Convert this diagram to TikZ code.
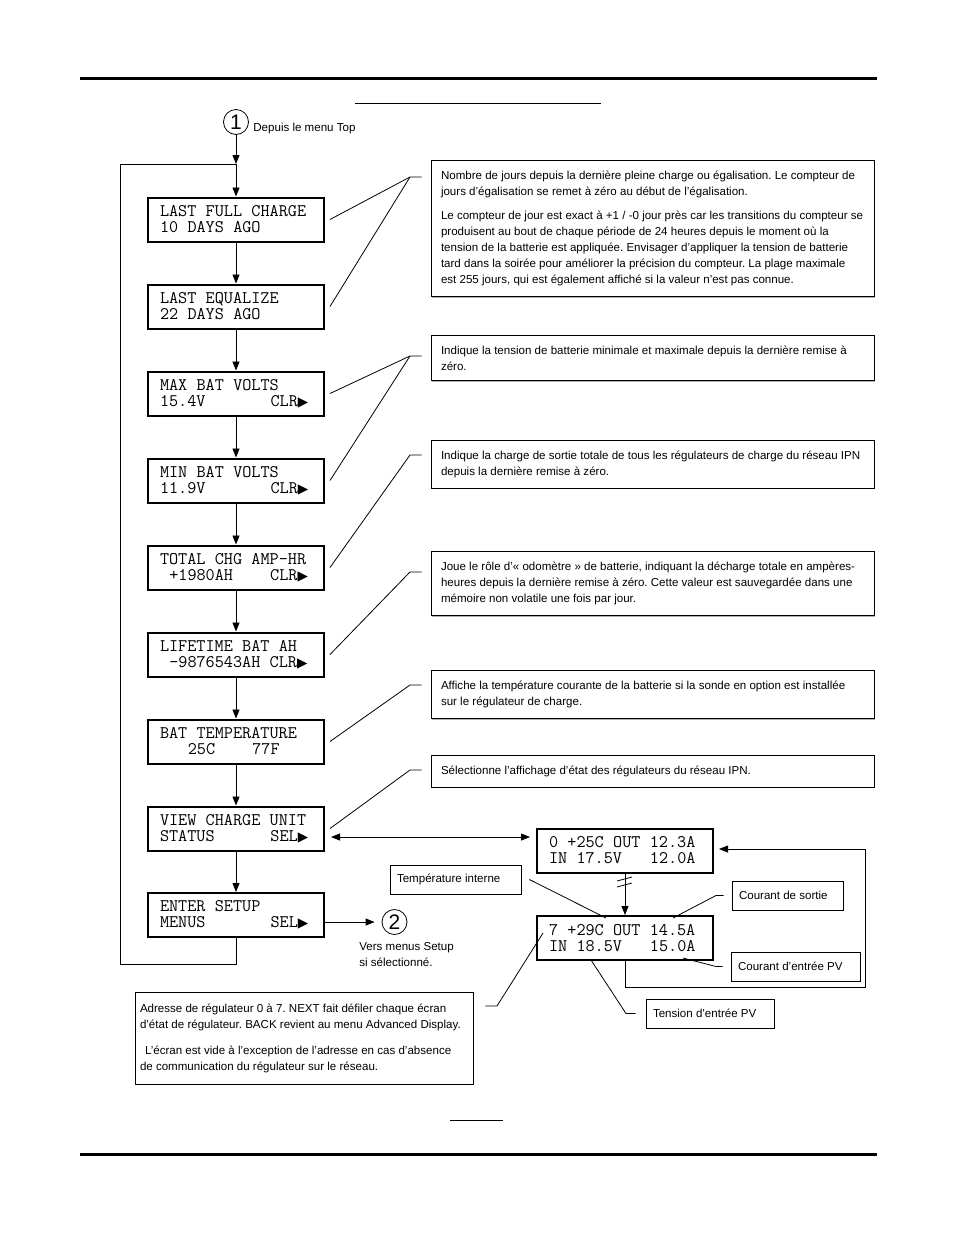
\documentclass[tikz,border=0pt]{standalone}
\usepackage{fontspec}
\setmainfont{Liberation Sans}
\newfontfamily\symbfont{DejaVu Sans}
\DeclareRobustCommand\lcdtype{\ttfamily\fontsize{17.7}{16}\selectfont}
\newcommand\tri{\makebox[0.525em][l]{\symbfont\fontsize{13.5}{13.5}\selectfont\raisebox{0.3pt}{▶}}}
\usetikzlibrary{arrows.meta,shadows}

\begin{document}
\begin{tikzpicture}[x=1pt, y=-1pt, line width=0.8pt,
        >={Triangle[length=9pt,width=7pt]},
        lcd/.style={draw, line width=2pt, font=\lcdtype, text width=152pt, align=left, inner xsep=12pt, inner ysep=0pt, minimum height=44pt, execute at begin node={\spaceskip=0.525em\relax}},
        note/.style={draw, fill=white, line width=0.8pt, general shadow={fill=gray!60, shadow xshift=1.2pt, shadow yshift=-1.2pt}, font=\fontsize{11.55}{16}\selectfont\frenchspacing, text width=423pt, align=left, inner xsep=10pt, inner ysep=10.5pt, execute at begin node={\spaceskip=0pt\xspaceskip=0pt\relax}},
        callout/.style={note, inner xsep=7pt, inner ysep=0pt, minimum height=29pt},
        marker/.style={circle, draw, line width=0.8pt, minimum size=25pt, inner sep=0pt, font=\fontsize{21}{21}\selectfont},
        remark/.style={font=\fontsize{11.55}{16}\selectfont, align=left, inner sep=0pt}]
    \useasboundingbox (0,0) rectangle (954,1235);
    % page rules
    \draw[line width=3pt] (80,78) -- (877,78);
    \draw (355,103.5) -- (601,103.5);
    \draw (450,1120) -- (503,1120);
    \draw[line width=3pt] (80,1154) -- (877,1154);

    % menu screens
    \node[marker] (c1) at (236,122) {1};
    \node[remark, anchor=west] (top) at (253,129) {Depuis le menu Top};
    \coordinate (j) at (236,164);
    \node[lcd] (lfc) at (236,219.5) {LAST FULL CHARGE\\10 DAYS AGO};
    \node[lcd] (leq) at (236,306.5) {LAST EQUALIZE\\22 DAYS AGO};
    \node[lcd] (maxv) at (236,393.5) {MAX BAT VOLTS\\15.4V~~~~~~~CLR\tri};
    \node[lcd] (minv) at (236,480.5) {MIN BAT VOLTS\\11.9V~~~~~~~CLR\tri};
    \node[lcd] (tahr) at (236,567.5) {TOTAL CHG AMP-HR\\~+1980AH~~~~CLR\tri};
    \node[lcd] (life) at (236,654.5) {LIFETIME BAT AH\\~-9876543AH~CLR\tri};
    \node[lcd] (btemp) at (236,741.5) {BAT TEMPERATURE\\~~~25C~~~~77F};
    \node[lcd] (vcs) at (236,828.5) {VIEW CHARGE UNIT\\STATUS~~~~~~SEL\tri};
    \node[lcd] (ent) at (236,915) {ENTER SETUP\\MENUS~~~~~~~SEL\tri};
    \node[marker] (c2) at (394.5,922) {2};
    \node[remark, anchor=north west] (setup) at (359,942) {Vers menus Setup\\si sélectionné.};

    \draw[->] (c1) -- (j);
    \draw[->] (j) -- (lfc);
    \draw[->] (lfc) -- (leq);
    \draw[->] (leq) -- (maxv);
    \draw[->] (maxv) -- (minv);
    \draw[->] (minv) -- (tahr);
    \draw[->] (tahr) -- (life);
    \draw[->] (life) -- (btemp);
    \draw[->] (btemp) -- (vcs);
    \draw[->] (vcs) -- (ent);
    \draw (ent) -- ++(0,49) -| (120,164) -- (j);
    \draw[->, shorten >=7pt] (ent.east |- c2) -- (c2);

    % explanations
    \node[note] (nfull) at (652.5,228.5) {Nombre de jours depuis la dernière pleine charge ou égalisation. Le compteur de\\
        jours d'égalisation se remet à zéro au début de l'égalisation.\\[8pt]
        Le compteur de jour est exact à +1 / -0 jour près car les transitions du compteur se\\
        produisent au bout de chaque période de 24 heures depuis le moment où la\\
        tension de la batterie est appliquée. Envisager d'appliquer la tension de batterie\\
        tard dans la soirée pour améliorer la précision du compteur. La plage maximale\\
        est 255 jours, qui est également affiché si la valeur n'est pas connue.};
    \node[note] (nvolt) at (652.5,358) {Indique la tension de batterie minimale et maximale depuis la dernière remise à\\zéro.};
    \node[note] (nahr) at (652.5,464) {Indique la charge de sortie totale de tous les régulateurs de charge du réseau IPN\\depuis la dernière remise à zéro.};
    \node[note] (nlife) at (652.5,583.5) {Joue le rôle d'«~odomètre~» de batterie, indiquant la décharge totale en ampères-\\
        heures depuis la dernière remise à zéro. Cette valeur est sauvegardée dans une\\
        mémoire non volatile une fois par jour.};
    \node[note] (ntemp) at (652.5,694.5) {Affiche la température courante de la batterie si la sonde en option est installée\\sur le régulateur de charge.};
    \node[note] (nview) at (652.5,771) {Sélectionne l'affichage d'état des régulateurs du réseau IPN.};

    \coordinate (k1) at (410,177);
    \coordinate (k2) at (410,356);
    \coordinate (k3) at (410,455);
    \coordinate (k4) at (410,572);
    \coordinate (k5) at (410,685);
    \coordinate (k6) at (410,770);
    \draw ([xshift=5pt]lfc.east) -- (k1) -- ([xshift=-9pt]k1 -| nfull.west);
    \draw ([xshift=5pt]leq.east) -- (k1);
    \draw ([xshift=5pt]maxv.east) -- (k2) -- ([xshift=-9pt]k2 -| nvolt.west);
    \draw ([xshift=5pt]minv.east) -- (k2);
    \draw ([xshift=5pt]tahr.east) -- (k3) -- ([xshift=-9pt]k3 -| nahr.west);
    \draw ([xshift=5pt]life.east) -- (k4) -- ([xshift=-9pt]k4 -| nlife.west);
    \draw ([xshift=5pt]btemp.east) -- (k5) -- ([xshift=-9pt]k5 -| ntemp.west);
    \draw ([xshift=5pt]vcs.east) -- (k6) -- ([xshift=-9pt]k6 -| nview.west);

    % charge unit status
    \node[lcd] (s0) at (625,850.5) {0 +25C OUT 12.3A\\IN 17.5V~~~12.0A};
    \node[lcd] (s7) at (625,938) {7 +29C OUT 14.5A\\IN 18.5V~~~15.0A};
    \coordinate (vx) at ([xshift=6pt,yshift=-8.5pt]vcs.east);
    \draw[<->, shorten >=6pt] (vx) -- (vx -| s0.west);
    \draw[->] (s0) -- (s7);
    \draw (617,881) -- (632,877) (617,887) -- (632,883);
    \coordinate (rc) at (865,849);
    \draw[->, shorten >=5pt] (s7) -- ++(0,49) -| (rc) -- (rc -| s0.east);

    \node[callout, text width=117pt] (tint) at (455.5,879.5) {Température interne};
    \node[callout, text width=97pt] (csort) at (787.5,895.5) {Courant de sortie};
    \node[callout, text width=115pt] (cent) at (795.5,966.5) {Courant d'entrée PV};
    \node[callout, text width=114pt] (tens) at (710,1013.5) {Tension d'entrée PV};
    \node[note, text width=328pt, inner xsep=5pt, inner ysep=11.6pt] (addr) at (304,1038) {Adresse de régulateur 0 à 7. NEXT fait défiler chaque écran\\
        d'état de régulateur. BACK revient au menu Advanced Display.\\[10pt]
        \hspace*{5pt}L'écran est vide à l'exception de l'adresse en cas d'absence\\
        de communication du régulateur sur le réseau.};

    \coordinate (t1) at (606,918);
    \coordinate (t2) at (673,918);
    \coordinate (t2b) at (716,895.5);
    \coordinate (t3) at (683,958);
    \coordinate (t3b) at (716,966.5);
    \coordinate (t4) at (591,960);
    \coordinate (t4b) at (626,1013.5);
    \coordinate (t5) at (543,933);
    \coordinate (t5b) at (497,1006);
    \draw ([xshift=8pt]tint.east) -- (t1);
    \draw (t2) -- (t2b) -- ([xshift=-8pt]t2b -| csort.west);
    \draw (t3) -- (t3b) -- ([xshift=-8pt]t3b -| cent.west);
    \draw (t4) -- (t4b) -- ([xshift=-10pt]t4b -| tens.west);
    \draw (t5) -- (t5b) -- ([xshift=12pt]t5b -| addr.east);
\end{tikzpicture}
\end{document}
